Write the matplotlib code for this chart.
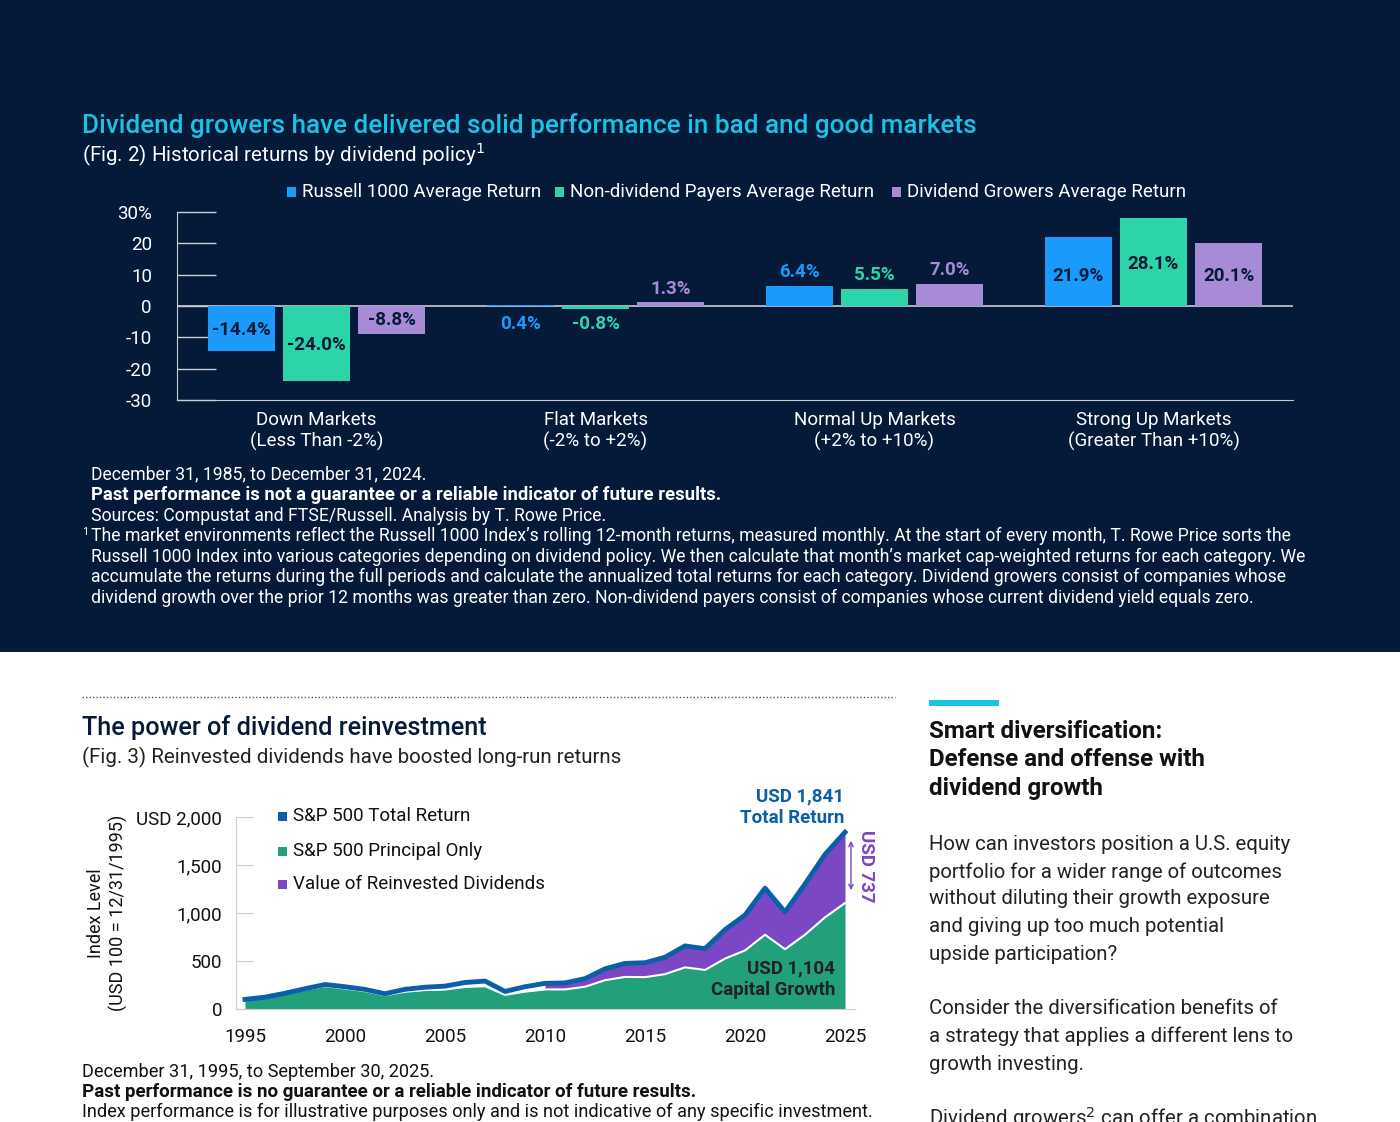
import matplotlib
matplotlib.use("Agg")
import matplotlib.pyplot as plt
import numpy as np
from matplotlib.patches import Rectangle
from matplotlib.lines import Line2D

plt.rcParams['font.family'] = ['Roboto', 'DejaVu Sans']

# ---- data: fig 2 ----
categories = ["Down Markets\n(Less Than -2%)", "Flat Markets\n(-2% to +2%)",
              "Normal Up Markets\n(+2% to +10%)", "Strong Up Markets\n(Greater Than +10%)"]
series_names = ["Russell 1000 Average Return", "Non-dividend Payers Average Return",
                "Dividend Growers Average Return"]
russell = [-14.4, 0.4, 6.4, 21.9]
nondiv = [-24.0, -0.8, 5.5, 28.1]
growers = [-8.8, 1.3, 7.0, 20.1]
bar_yticks = [30, 20, 10, 0, -10, -20, -30]
bar_yticklabels = ["30%", "20", "10", "0", "-10", "-20", "-30"]

# ---- data: fig 3 ----
years = [1995, 1996, 1997, 1998, 1999, 2000, 2001, 2002, 2003, 2004, 2005, 2006, 2007,
         2008, 2009, 2010, 2011, 2012, 2013, 2014, 2015, 2016, 2017, 2018, 2019, 2020,
         2021, 2022, 2023, 2024, 2025]
total_return = [100, 123, 164, 211, 255, 232, 204, 159, 205, 227, 238, 276, 291, 183, 232,
                267, 272, 316, 418, 475, 482, 539, 657, 628, 826, 978, 1259, 1010, 1302, 1610, 1841]
principal = [100, 120, 158, 200, 238, 214, 186, 143, 180, 197, 203, 230, 238, 147, 181,
             204, 204, 232, 300, 334, 332, 363, 434, 407, 525, 610, 774, 623, 774, 955, 1104]
line_xticks = [1995, 2000, 2005, 2010, 2015, 2020, 2025]
line_yticks = [0, 500, 1000, 1500, 2000]
line_yticklabels = ["0", "500", "1,000", "1,500", "USD 2,000"]

W, H = 1400, 1122
NAVY = "#041a38"
fig = plt.figure(figsize=(14, 11.22), dpi=100)
fig.patch.set_facecolor("white")
fig.patches.append(Rectangle((0, 1 - 652 / H), 1, 652 / H, transform=fig.transFigure,
                             facecolor=NAVY, zorder=-10))

def T(x, y, s, **kw):
    return fig.text(x / W, 1 - y / H, s, **kw)

def ax_rect(l, t, r, b):
    return [l / W, 1 - b / H, (r - l) / W, (b - t) / H]

def square(x, y, c, size=9):
    fig.patches.append(Rectangle((x / W, 1 - (y + size / 2) / H), size / W, size / H,
                                 transform=fig.transFigure, facecolor=c))

T(82, 126, "Dividend growers have delivered solid performance in bad and good markets",
  color="#19c3e6", fontsize=18.8, fontweight="medium", va="center")
T(82, 154, "(Fig. 2) Historical returns by dividend policy$^1$", color="white",
  fontsize=14.8, va="center")

cols = ["#1a9bfc", "#2dd4aa", "#a78bd6"]
ax = fig.add_axes(ax_rect(177, 212, 1293, 400))
ax.set_facecolor(NAVY)
x = np.arange(len(categories))
bw, off = 0.24, 0.27
neg_off = [6.7, 11.5, 4.3]
for i, (vals, c) in enumerate(zip([russell, nondiv, growers], cols)):
    xs = x + (i - 1) * off
    ax.bar(xs, vals, width=bw, color=c, zorder=2)
    for j, v in enumerate(vals):
        s = f"{v:.1f}%"
        if j == 0:
            ax.text(xs[j], v + neg_off[i], s, ha="center", va="center",
                    color=NAVY, fontsize=13.5, fontweight="bold", zorder=3)
        elif j == 1:
            ax.text(xs[j], 5.5 if v > 1 else -5.8, s, ha="center", va="center",
                    color=c, fontsize=13.5, fontweight="bold")
        elif j == 2:
            ax.text(xs[j], v + 4.5, s, ha="center", va="center", color=c,
                    fontsize=13.5, fontweight="bold")
        else:
            ax.text(xs[j], 9.5 if i != 1 else 13.5, s, ha="center", va="center",
                    color=NAVY, fontsize=13.5, fontweight="bold", zorder=3)
ax.axhline(0, color="#c8ccd4", lw=1.2, zorder=1)
ax.set_xlim(-0.5, 3.5)
ax.set_ylim(-30, 30)
ax.set_yticks(bar_yticks)
ax.set_yticklabels(bar_yticklabels, color="white", fontsize=13.5)
ax.tick_params(axis="y", direction="in", length=28, color="#c8ccd4", pad=18, width=1)
ax.set_xticks(x)
ax.set_xticklabels(categories, color="white", fontsize=13.5, linespacing=1.15)
ax.tick_params(axis="x", length=0, pad=8)
for sp in ["top", "right"]:
    ax.spines[sp].set_visible(False)
ax.spines["left"].set_color("#c8ccd4")
ax.spines["bottom"].set_color("#c8ccd4")

for xx, s, c in zip([287, 555, 892], series_names, cols):
    square(xx, 192, c)
    T(xx + 15, 192, s, color="white", fontsize=13.5, va="center")

notes = [
    (91, 474, "December 31, 1985, to December 31, 2024.", "normal"),
    (91, 495, "Past performance is not a guarantee or a reliable indicator of future results.", "bold"),
    (91, 516, "Sources: Compustat and FTSE/Russell. Analysis by T. Rowe Price.", "normal"),
    (91, 536, "The market environments reflect the Russell 1000 Index\u2019s rolling 12-month returns, measured monthly. At the start of every month, T. Rowe Price sorts the", "normal"),
    (91, 557, "Russell 1000 Index into various categories depending on dividend policy. We then calculate that month\u2019s market cap-weighted returns for each category. We", "normal"),
    (91, 577, "accumulate the returns during the full periods and calculate the annualized total returns for each category. Dividend growers consist of companies whose", "normal"),
    (91, 598, "dividend growth over the prior 12 months was greater than zero. Non-dividend payers consist of companies whose current dividend yield equals zero.", "normal"),
]
for xx, yy, s, w in notes:
    T(xx, yy, s, color="white", fontsize=13.3 if w == "bold" else 12.7, fontweight=w,
      va="center")
T(82, 532, "1", color="white", fontsize=8, va="center")

fig.add_artist(Line2D([82 / W, 895 / W], [1 - 697 / H] * 2, transform=fig.transFigure,
                      color="#555", lw=1, linestyle=(0, (1, 1.5))))
T(82, 728, "The power of dividend reinvestment", color=NAVY, fontsize=18.2,
  fontweight="medium", va="center")
T(82, 757, "(Fig. 3) Reinvested dividends have boosted long-run returns", color="#222",
  fontsize=14.8, va="center")

GREEN, PURPLE, BLUE = "#21a07b", "#7b47c2", "#0a5fa8"
ax2 = fig.add_axes(ax_rect(236, 817, 855, 1009))
ax2.fill_between(years, 0, principal, color=GREEN, lw=0, zorder=1)
yr = np.array(years)
ax2.fill_between(years, principal, total_return, where=yr >= 2010, color=PURPLE, lw=0, zorder=1)
ax2.plot(years, principal, color="white", lw=1.5, zorder=2)
ax2.plot(years, total_return, color=BLUE, lw=3.5, zorder=3, solid_joinstyle="round")
ax2.set_xlim(1994.55, 2025.5)
ax2.set_ylim(0, 2000)
ax2.set_xticks(line_xticks)
ax2.set_xticklabels([str(v) for v in line_xticks], fontsize=13.5, color="#111")
ax2.tick_params(axis="x", length=0, pad=14)
ax2.set_yticks(line_yticks)
ax2.set_yticklabels(line_yticklabels, fontsize=13.5, color="#111")
ax2.tick_params(axis="y", direction="in", length=12, color="#ccd", pad=10)
for sp in ["top", "right"]:
    ax2.spines[sp].set_visible(False)
ax2.spines["left"].set_color("#ccd")
ax2.spines["bottom"].set_color("#ccd")
T(96, 913, "Index Level", fontsize=13, color="#111", rotation=90, ha="center", va="center")
T(118, 913, "(USD 100 = 12/31/1995)", fontsize=13, color="#111", rotation=90,
  ha="center", va="center")

for yy, s, c in [(816, "S&P 500 Total Return", BLUE), (851, "S&P 500 Principal Only", GREEN),
                 (884, "Value of Reinvested Dividends", PURPLE)]:
    square(278, yy, c)
    T(293, yy, s, fontsize=13.5, color="#111", va="center")

T(844, 796, "USD 1,841", fontsize=13.5, color=BLUE, fontweight="bold", ha="right", va="center")
T(844, 818, "Total Return", fontsize=13.5, color=BLUE, fontweight="bold", ha="right", va="center")
T(835, 968, "USD 1,104", fontsize=13.5, color="#222", fontweight="bold", ha="right", va="center")
T(835, 990, "Capital Growth", fontsize=13.5, color="#222", fontweight="bold", ha="right", va="center")
T(866, 866, "USD 737", fontsize=13.5, color=PURPLE, fontweight="bold", ha="center",
  va="center", rotation=-90)
fig.add_artist(matplotlib.patches.FancyArrowPatch((851 / W, 1 - 838 / H), (851 / W, 1 - 893 / H),
                                                  transform=fig.transFigure, arrowstyle="<->",
                                                  mutation_scale=8, color=PURPLE, lw=1))

T(82, 1072, "December 31, 1995, to September 30, 2025.", fontsize=13.1, color="#111", va="center")
T(82, 1092, "Past performance is no guarantee or a reliable indicator of future results.",
  fontsize=13.5, color="#111", fontweight="bold", va="center")
T(82, 1112, "Index performance is for illustrative purposes only and is not indicative of any specific investment.",
  fontsize=13.1, color="#111", va="center")

fig.patches.append(Rectangle((929 / W, 1 - 706 / H), 70 / W, 6 / H, transform=fig.transFigure,
                             facecolor="#19c3e6"))
for i, s in enumerate(["Smart diversification:", "Defense and offense with", "dividend growth"]):
    T(929, 732 + i * 28, s, fontsize=17.4, fontweight="bold", color="#111", va="center")
body = [(844, "How can investors position a U.S. equity"), (872, "portfolio for a wider range of outcomes"),
        (899, "without diluting their growth exposure"), (926, "and giving up too much potential"),
        (954, "upside participation?"), (1009, "Consider the diversification benefits of"),
        (1036, "a strategy that applies a different lens to"), (1064, "growth investing."),
        (1118, "Dividend growers$^2$ can offer a combination")]
for yy, s in body:
    T(929, yy, s, fontsize=14.7, color="#222", va="center")

fig.savefig("out.png", dpi=100, facecolor=fig.get_facecolor())
